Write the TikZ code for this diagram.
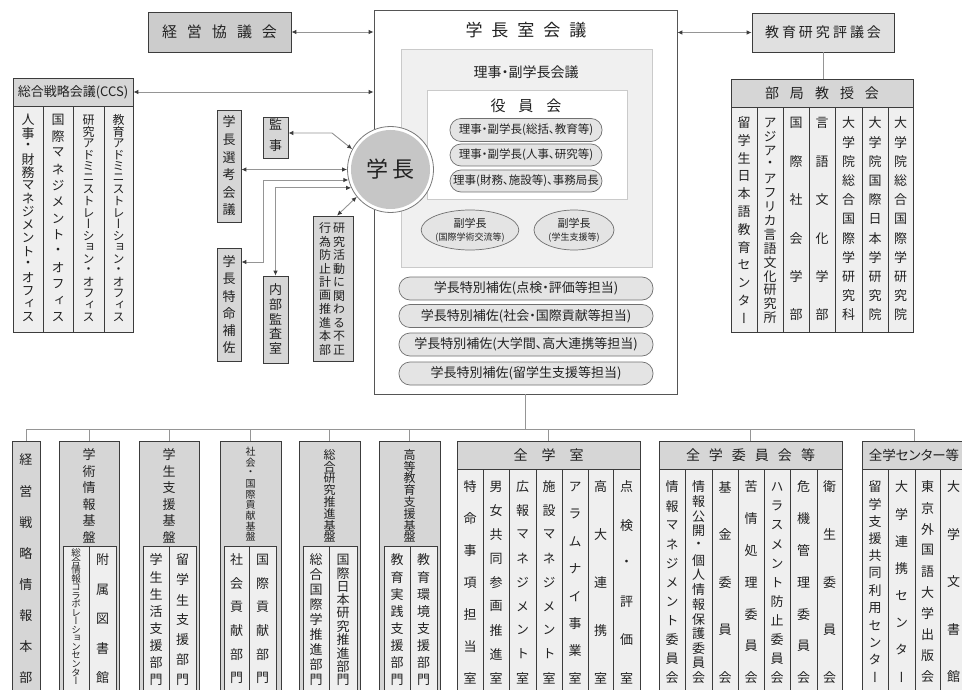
\documentclass[tikz,border=0pt]{standalone}
\usepackage{fontspec}
\setmainfont{Noto Sans CJK JP}
\newfontfamily\hf{Noto Sans CJK JP}[RawFeature=+palt]
\newfontfamily\vf{Noto Sans CJK JP}[RawFeature=+vert]
\usetikzlibrary{arrows.meta,shapes.geometric,fit}

\definecolor{bd}{HTML}{3C3C3C}
\definecolor{txt}{HTML}{222222}
\definecolor{hdr}{HTML}{D6D6D6}
\definecolor{hdrA}{HTML}{CCCCCC}
\definecolor{hdrB}{HTML}{E0E0E0}
\definecolor{col}{HTML}{EFEFEF}
\definecolor{ln}{HTML}{959595}
\definecolor{pillf}{HTML}{E4E4E4}
\definecolor{pilld}{HTML}{707070}
\definecolor{inbd}{HTML}{CACACA}
\definecolor{innerf}{HTML}{F0F0F0}
\definecolor{circf}{HTML}{C6C6C6}
\definecolor{circd}{HTML}{7A7A7A}
\definecolor{outerbd}{HTML}{555555}

\newcommand\fsz[1]{\fontsize{#1}{#1}\selectfont}

\ExplSyntaxOn
\NewDocumentCommand \spaced { m m }
  { \tl_map_inline:nn {#2} { ##1 \kern #1 } \unkern }
\int_new:N \g__vc_int
\int_new:N \l__vc_n_int
\int_new:N \l__vc_i_int
\tl_new:N \l__vc_y_tl
\tl_new:N \l__vc_name_tl
\NewDocumentCommand \vcol { O{} m m m m }
  {
    \int_set:Nn \l__vc_n_int { \tl_count:n {#5} }
    \int_zero:N \l__vc_i_int
    \tl_map_inline:nn {#5}
      {
        \int_gincr:N \g__vc_int
        \tl_set:Nx \l__vc_y_tl
          { \fp_eval:n { (#3) + ((#4) - (#3)) * \l__vc_i_int / max(1, \l__vc_n_int - 1) } }
        \tl_set:Nx \l__vc_name_tl { vc \int_use:N \g__vc_int }
        \node ~ [vch, #1] ~ (\l__vc_name_tl) ~ at ~ (#2, \l__vc_y_tl) ~ {##1};
        \int_incr:N \l__vc_i_int
      }
  }
\ExplSyntaxOff

\newcommand\bx[6][box]{\node[#1, fit={(#3,#4)(#5,#6)}, inner sep=0pt] (#2) {};}

\tikzset{
  vch/.style={inner sep=0pt, font=\vf\fsz{13}, text=txt},
  vsm/.style={font=\vf\fsz{12}},
  vxs/.style={font=\vf\fsz{10}},
  vtiny/.style={font=\vf\fsz{9.5}},
  box/.style={draw=bd, line width=0.8pt},
  conn/.style={draw=ln, line width=0.9pt},
  ht/.style={inner sep=0pt, text=txt},
  pill/.style={draw=pilld, fill=pillf, line width=0.7pt, rounded corners=11pt, inner sep=0pt, text=txt},
  ell/.style={ellipse, draw=pilld, fill=pillf, line width=0.7pt, inner sep=0pt, align=center, text=txt},
  >={Latex[length=5pt,width=4.5pt,color=bd]}
}

\begin{document}
\begin{tikzpicture}[x=1pt,y=-1pt]
\useasboundingbox (0,0) rectangle (962,690);
\fill[white] (0,0) rectangle (962,690);
\begin{scope}
\clip (0,0) rectangle (962,690);

% ---------- top row ----------
\bx[box,fill=hdrA]{keiei}{148}{12}{291}{52}
\node[ht,font=\hf\fsz{15}] (t-keiei) at (keiei.center) {\spaced{10pt}{経営協議会}};

\bx[draw=outerbd,line width=0.8pt,fill=white]{shitsu}{374}{10}{677}{394}
\node[ht,font=\hf\fsz{17}] (t-shitsu) at (526,30) {\spaced{9pt}{学長室会議}};

\bx[draw=inbd,line width=0.7pt,fill=innerf]{riji}{401}{49}{652}{267}
\node[ht,font=\hf\fsz{14}] (t-riji) at (526,72) {理事・副学長会議};

\bx[draw=inbd,line width=0.7pt,fill=white]{yakuin}{427}{90}{627}{199}
\node[ht,font=\hf\fsz{15}] (t-yakuin) at (526,106) {\spaced{13pt}{役員会}};

\node[pill,font=\hf\fsz{11.5},minimum width=152pt,minimum height=23pt] (p1) at (526,130) {理事・副学長(総括、教育等)};
\node[pill,font=\hf\fsz{11.5},minimum width=152pt,minimum height=22pt] (p2) at (526,155) {理事・副学長(人事、研究等)};
\node[pill,font=\hf\fsz{11.5},minimum width=152pt,minimum height=22pt] (p3) at (526,181) {理事(財務、施設等)、事務局長};

\node[ell,font=\hf\fontsize{11}{13}\selectfont,minimum width=75pt,minimum height=40pt] (vp1) at (470,230) {副学長\\{\fsz{9}(国際学術交流等)}};
\node[ell,font=\hf\fontsize{11}{13}\selectfont,minimum width=80pt,minimum height=40pt] (vp2) at (574,230) {副学長\\{\fsz{9}(学生支援等)}};

\node[pill,font=\hf\fsz{13},minimum width=254pt,minimum height=23pt] (sp1) at (526,288.5) {学長特別補佐(点検・評価等担当)};
\node[pill,font=\hf\fsz{13},minimum width=254pt,minimum height=23pt] (sp2) at (526,316) {学長特別補佐(社会・国際貢献等担当)};
\node[pill,font=\hf\fsz{13},minimum width=254pt,minimum height=23pt] (sp3) at (526,344.5) {学長特別補佐(大学間、高大連携等担当)};
\node[pill,font=\hf\fsz{13},minimum width=254pt,minimum height=23pt] (sp4) at (526,373.5) {学長特別補佐(留学生支援等担当)};

% president circle
\node[circle,draw=circd,fill=white,line width=0.8pt,minimum size=86pt,inner sep=0pt] (gakucho) at (390.5,169.5) {};
\node[circle,fill=circf,minimum size=79pt,inner sep=0pt] (gakucho-in) at (gakucho.center) {};
\node[ht,font=\hf\fsz{22}] (t-gakucho) at (gakucho.center) {\spaced{5pt}{学長}};

% right: 教育研究評議会 / 部局教授会
\bx[box,fill=hdrB]{hyogi}{752}{13}{894}{52}
\node[ht,font=\hf\fsz{14}] (t-hyogi) at (hyogi.center) {\spaced{3pt}{教育研究評議会}};
\bx[box,fill=hdr]{bkh}{731}{79}{913}{107}
\node[ht,font=\hf\fsz{14}] (t-bkh) at (bkh.center) {\spaced{11pt}{部局教授会}};
\foreach \a/\b [count=\i] in {731/757,757/783,783/809,809/835,835/862,862/888,888/913}
  {\bx[box,fill=col]{bk\i}{\a}{107}{\b}{332}}
\vcol{744}{123}{318}{留学生日本語教育センター}
\vcol{770}{123}{318}{アジア・アフリカ言語文化研究所}
\vcol{796}{123}{315}{国際社会学部}
\vcol{822}{123}{315}{言語文化学部}
\vcol{848.5}{123}{315}{大学院総合国際学研究科}
\vcol{875}{123}{315}{大学院国際日本学研究院}
\vcol{900.5}{123}{315}{大学院総合国際学研究院}

% left: CCS
\bx[box,fill=hdr]{ccsh}{13}{78}{133}{106}
\node[ht,font=\hf\fsz{13}] (t-ccsh) at (ccsh.center) {総合戦略会議(CCS)};
\foreach \a/\b [count=\i] in {13/43,43/73,73/104,104/133}
  {\bx[box,fill=col]{ccs\i}{\a}{106}{\b}{332}}
\vcol{28}{120}{317}{人事・財務マネジメント・オフィス}
\vcol{58}{120}{317}{国際マネジメント・オフィス}
\vcol[vsm]{88.5}{120}{317}{研究アドミニストレーション・オフィス}
\vcol[vsm]{118.5}{120}{317}{教育アドミニストレーション・オフィス}

% middle-left small boxes
\bx[box,fill=hdr]{senko}{217}{110}{241}{222}
\bx[box,fill=hdr]{kanji}{263}{117}{288}{158}
\bx[box,fill=hdr]{tokumei}{217}{248}{241}{361}
\bx[box,fill=hdr]{naibu}{263}{276}{288}{363}
\bx[box,fill=hdr]{fusei}{313}{216}{353}{361}
\vcol{229}{122}{210}{学長選考会議}
\vcol{275.5}{124}{146}{監事}
\vcol{229}{262}{348}{学長特命補佐}
\vcol{275.5}{290}{348}{内部監査室}
\vcol[vsm]{339}{228}{350}{研究活動に関わる不正}
\vcol[vsm]{325}{228}{350}{行為防止計画推進本部}

% connectors, top
\draw[conn,<->] (keiei.east) -- (keiei.east -| shitsu.west);
\draw[conn,<->] (ccsh.east) -- (ccsh.east -| shitsu.west);
\draw[conn,<->] (hyogi.west -| shitsu.east) -- (hyogi.west);
\draw[conn] (hyogi.south) -- (hyogi.south |- bkh.north);

% connectors around the president
\coordinate (kbend) at (332,133);
\coordinate (tkbend) at (263,262);
\draw[conn,<->] (kanji.east |- kbend) -- (kbend) -- (gakucho.152);
\draw[conn,<->] (senko.east |- gakucho.west) -- (gakucho.west);
\draw[conn,<->] (gakucho.194) -| (tkbend) -- (tkbend -| tokumei.east);
\draw[conn,<->] (gakucho.205) -| (naibu.north);
\draw[conn,<->] ([xshift=4pt]fusei.north) -- (gakucho.219);

% ---------- bottom row ----------
\bx[box,fill=hdr]{senryaku}{12}{441}{40}{700}
\vcol{26}{460}{678}{経営戦略情報本部}

\bx[box,fill=hdr]{gakujutsu}{59}{441}{119}{700}
\bx[box,fill=col]{gj1}{63}{546}{89}{700}
\bx[box,fill=col]{gj2}{89}{546}{116}{700}
\vcol{89}{455}{537}{学術情報基盤}
\vcol[vtiny]{76}{553}{681}{総合情報コラボレーションセンター}
\vcol{102.5}{560}{678}{附属図書館}

\bx[box,fill=hdr]{gakusei}{139}{441}{199}{700}
\bx[box,fill=col]{gs1}{143}{546}{169}{700}
\bx[box,fill=col]{gs2}{169}{546}{196}{700}
\vcol{169}{455}{537}{学生支援基盤}
\vcol{156}{560}{680}{学生生活支援部門}
\vcol{182.5}{560}{680}{留学生支援部門}

\bx[box,fill=hdr]{shakai}{220}{441}{281}{700}
\bx[box,fill=col]{sk1}{224}{546}{249}{700}
\bx[box,fill=col]{sk2}{249}{546}{276}{700}
\vcol[vxs]{250.5}{452}{537}{社会・国際貢献基盤}
\vcol{236.5}{560}{678}{社会貢献部門}
\vcol{262.5}{560}{678}{国際貢献部門}

\bx[box,fill=hdr]{sogo}{299}{441}{360}{700}
\bx[box,fill=col]{sg1}{303}{546}{329}{700}
\bx[box,fill=col]{sg2}{329}{546}{357}{700}
\vcol[vsm]{329.5}{455}{537}{総合研究推進基盤}
\vcol{316}{560}{680}{総合国際学推進部門}
\vcol{343}{560}{680}{国際日本研究推進部門}

\bx[box,fill=hdr]{koto}{379}{441}{440}{700}
\bx[box,fill=col]{kt1}{384}{546}{410}{700}
\bx[box,fill=col]{kt2}{410}{546}{437}{700}
\vcol[vsm]{409.5}{455}{537}{高等教育支援基盤}
\vcol{397}{560}{680}{教育実践支援部門}
\vcol{423.5}{560}{680}{教育環境支援部門}

\bx[box,fill=hdr]{zgh}{457}{441}{640}{469}
\node[ht,font=\hf\fsz{14}] (t-zgh) at (zgh.center) {\spaced{14pt}{全学室}};
\foreach \a/\b [count=\i] in {457/483,483/509,509/536,536/562,562/588,588/613,613/640}
  {\bx[box,fill=col]{zg\i}{\a}{469}{\b}{700}}
\vcol{470}{487}{678}{特命事項担当室}
\vcol{496}{487}{678}{男女共同参画推進室}
\vcol{522.5}{487}{678}{広報マネジメント室}
\vcol{549}{487}{678}{施設マネジメント室}
\vcol{575}{487}{678}{アラムナイ事業室}
\vcol{600.5}{487}{678}{高大連携室}
\vcol{626.5}{487}{678}{点検・評価室}

\bx[box,fill=hdr]{ziih}{659}{441}{842}{469}
\node[ht,font=\hf\fsz{14}] (t-ziih) at (ziih.center) {\spaced{9pt}{全学委員会等}};
\foreach \a/\b [count=\i] in {659/685,685/712,712/738,738/764,764/790,790/817,817/842}
  {\bx[box,fill=col]{zi\i}{\a}{469}{\b}{700}}
\vcol{672}{487}{678}{情報マネジメント委員会}
\vcol{698.5}{487}{678}{情報公開・個人情報保護委員会}
\vcol{725}{487}{678}{基金委員会}
\vcol{751}{487}{678}{苦情処理委員会}
\vcol{777}{487}{678}{ハラスメント防止委員会}
\vcol{803.5}{487}{678}{危機管理委員会}
\vcol{829.5}{487}{678}{衛生委員会}

\bx[box,fill=hdr]{zch}{862}{441}{967}{469}
\node[ht,font=\hf\fsz{13.5}] (t-zch) at (914,455) {全学センター等};
\foreach \a/\b [count=\i] in {862/888,888/915,915/940,940/967}
  {\bx[box,fill=col]{zc\i}{\a}{469}{\b}{700}}
\vcol{875}{487}{677}{留学支援共同利用センター}
\vcol{901.5}{487}{677}{大学連携センター}
\vcol{927.5}{487}{677}{東京外国語大学出版会}
\vcol{953.5}{487}{677}{大学文書館}

% bus
\coordinate (bus) at (shitsu.south |- 0,429);
\draw[conn] (shitsu.south) -- (bus);
\draw[conn] (senryaku.north |- bus) -- ([xshift=0.5pt]zch.north |- bus);
\foreach \n in {senryaku,gakujutsu,gakusei,shakai,sogo,koto,zgh,ziih,zch}
  {\draw[conn] (\n.north) -- (\n.north |- bus);}

\end{scope}
\end{tikzpicture}
\end{document}
